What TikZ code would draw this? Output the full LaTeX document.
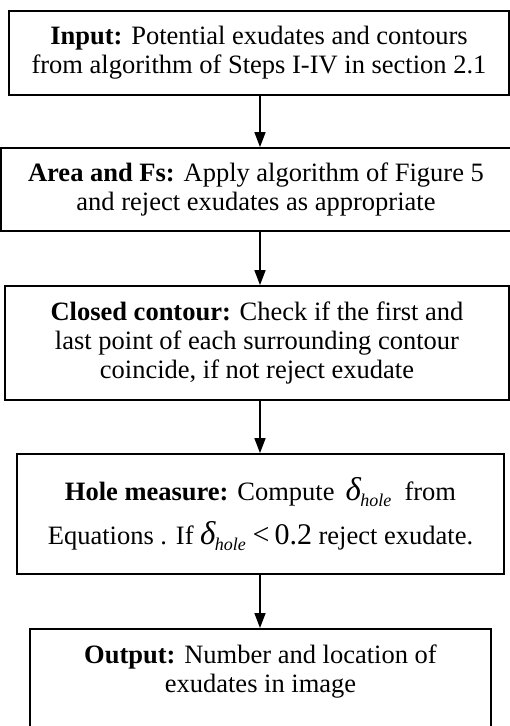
\documentclass[tikz,border=0pt]{standalone}
\usepackage{fontspec}
\setmainfont{Liberation Serif}
\usetikzlibrary{arrows.meta}
\newcommand{\dhole}{{\fontsize{33}{33}\selectfont\textit{δ}}\kern-1pt\raisebox{-6pt}{\fontsize{18}{18}\selectfont\textit{hole}}}
\begin{document}
\begin{tikzpicture}[x=1pt,y=-1pt,
  box/.style={draw=black,line width=1.8pt,rectangle,inner sep=0pt,align=center,
    font=\fontsize{26.5}{29}\selectfont},
  flow/.style={line width=1.6pt,-{Triangle[length=15pt,width=11pt]}}]
\useasboundingbox (0,0) rectangle (510,726);
\clip (0,0) rectangle (510,726);
\coordinate (ax) at (260,0);
\node[box,minimum width=500pt,minimum height=84pt] (b1) at (259,53)
  {\textbf{Input:} Potential exudates and contours\\from algorithm of Steps I-IV in section 2.1};
\node[box,minimum width=510pt,minimum height=83pt] (b2) at (256,189.5)
  {\textbf{Area and Fs:} Apply algorithm of Figure 5\\and reject exudates as appropriate};
\node[box,minimum width=504pt,minimum height=114pt] (b3) at (257,343)
  {\textbf{Closed contour:} Check if the first and\\last point of each surrounding contour\\coincide, if not reject exudate};
\node[box,minimum width=487pt,minimum height=120pt] (b4) at (260.5,514)
  {\textbf{Hole measure:} Compute \,\dhole\ \ from\\[14pt]Equations . If \dhole\ {\fontsize{30}{30}\selectfont<\,0.2} reject exudate.};
\node[box,minimum width=461pt,minimum height=140pt,anchor=north] (b5) at (260.5,628) {};
\node[font=\fontsize{26.5}{29}\selectfont,align=center,anchor=north,inner sep=0pt] (b5t) at (260.5,645)
  {\textbf{Output:} Number and location of\\exudates in image};
\draw[flow] (b1.south -| ax) -- (b2.north -| ax);
\draw[flow] (b2.south -| ax) -- (b3.north -| ax);
\draw[flow] (b3.south -| ax) -- (b4.north -| ax);
\draw[flow] (b4.south -| ax) -- (b5.north -| ax);
\end{tikzpicture}
\end{document}
